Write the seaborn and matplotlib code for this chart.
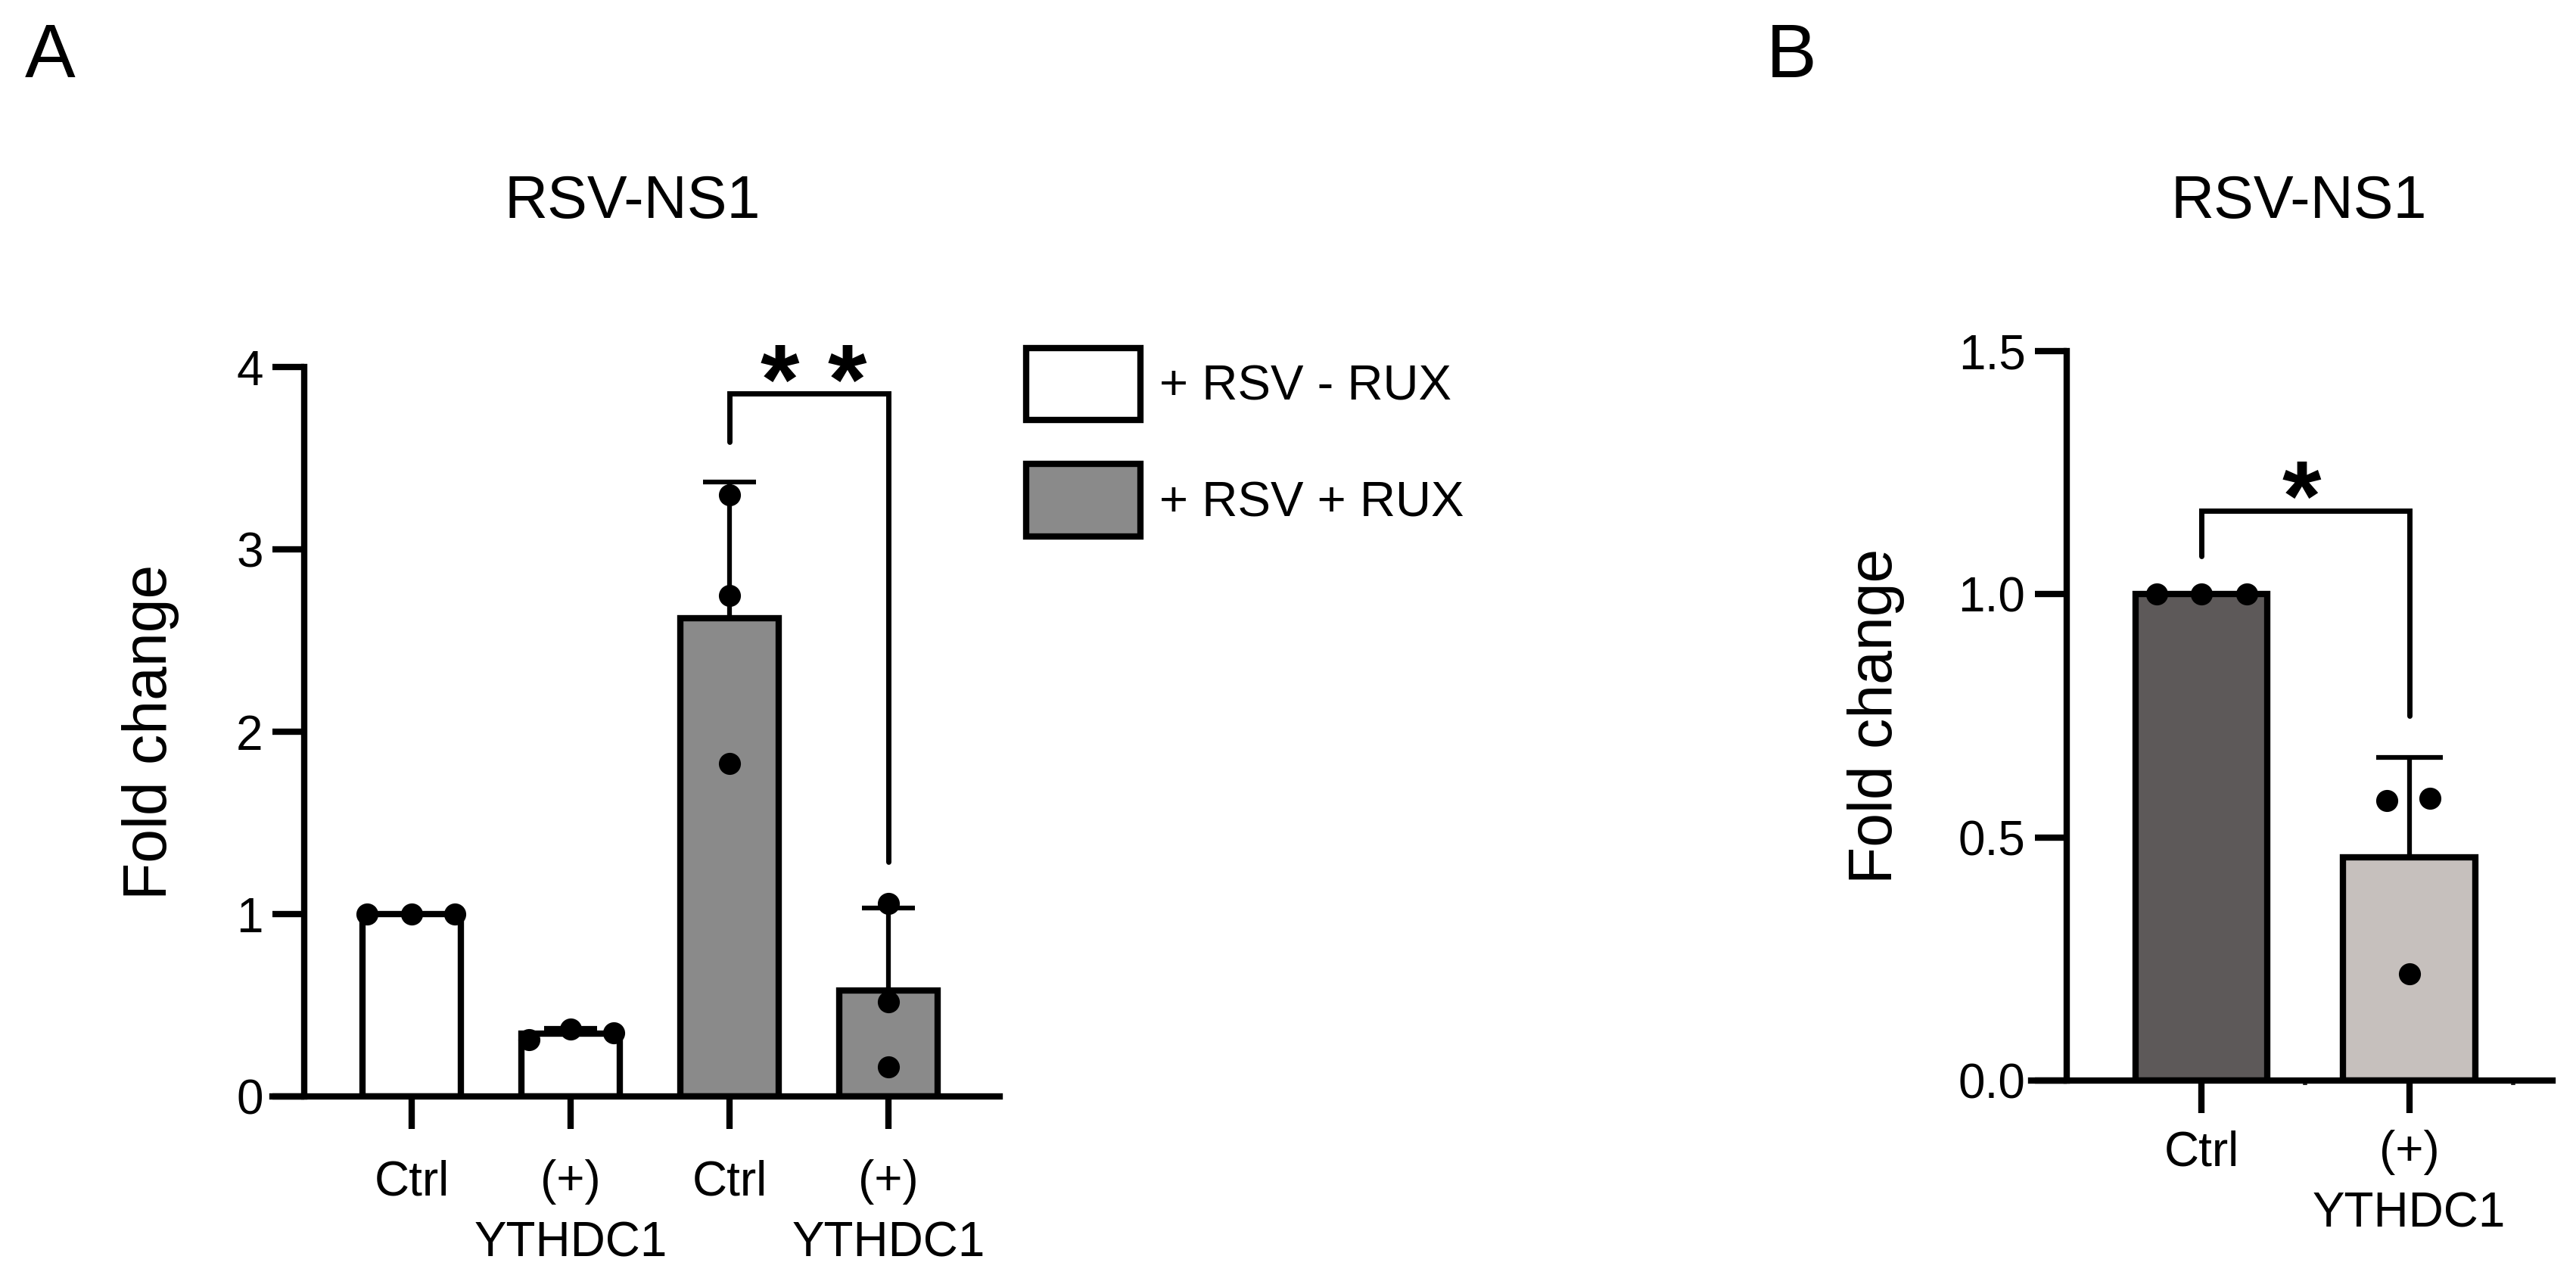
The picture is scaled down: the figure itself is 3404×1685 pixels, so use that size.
import numpy as np
import pandas as pd
import seaborn as sns
import matplotlib.pyplot as plt
from matplotlib.patches import Patch

# ---- data ----
# panel A: RSV-NS1, two conditions x two groups, three replicates each
a_tick_labels = ['Ctrl', '(+)\nYTHDC1', 'Ctrl', '(+)\nYTHDC1']
a_conditions = ['+ RSV - RUX', '+ RSV - RUX', '+ RSV + RUX', '+ RSV + RUX']
a_ctrl_norux = [1.0, 1.0, 1.0]
a_ythdc1_norux = [0.31, 0.37, 0.35]
a_ctrl_rux = [3.30, 2.745, 1.825]
a_ythdc1_rux = [1.06, 0.52, 0.16]
a_sig = '*'

# panel B: RSV-NS1, two groups, three replicates each
b_tick_labels = ['Ctrl', '(+)\nYTHDC1']
b_ctrl = [1.0, 1.0, 1.0]
b_ythdc1 = [0.575, 0.58, 0.22]
b_sig = '*'

# ---- style ----
W, H = 3404, 1685
font = ['Liberation Sans', 'DejaVu Sans']
a_colors = {'+ RSV - RUX': '#ffffff', '+ RSV + RUX': '#8a8a8a'}
b_colors = ['#5e5858', '#c8bfbb']
# horizontal spread of replicate dots (fraction of a category step)
a_dot_dx = [[-0.28, 0.0, 0.27], [-0.26, 0.0, 0.27], [0.0, 0.0, 0.0], [0.0, 0.0, 0.0]]
b_dot_dx = [[-0.216, 0.0, 0.22], [-0.108, 0.10, 0.0]]
LW = 6

sns.set_style('ticks')
plt.rcParams['font.family'] = font
plt.rcParams['text.color'] = 'black'
plt.rcParams['axes.labelcolor'] = 'black'

a_reps = [a_ctrl_norux, a_ythdc1_norux, a_ctrl_rux, a_ythdc1_rux]
b_reps = [b_ctrl, b_ythdc1]

df_a = pd.DataFrame({
    'slot': [f'A{i}' for i, r in enumerate(a_reps) for _ in r],
    'cond': [a_conditions[i] for i, r in enumerate(a_reps) for _ in r],
    'value': [v for r in a_reps for v in r],
})
df_b = pd.DataFrame({
    'slot': [f'B{i}' for i, r in enumerate(b_reps) for _ in r],
    'value': [v for r in b_reps for v in r],
})

fig = plt.figure(figsize=(W / 100, H / 100), dpi=100)


def px_axes(left, right, bottom, top):
    return fig.add_axes([left / W, 1 - bottom / H, (right - left) / W, (bottom - top) / H])


ax_a = px_axes(360, 1321, 1449, 485)
ax_b = px_axes(2684, 3373, 1428, 464)

# bars
sns.barplot(data=df_a, x='slot', y='value', hue='cond', palette=a_colors,
            errorbar=None, width=0.62, dodge=False, edgecolor='black',
            linewidth=LW, legend=False, ax=ax_a)
sns.barplot(data=df_b, x='slot', y='value', hue='slot', palette=b_colors,
            errorbar=None, width=0.636, dodge=False, edgecolor='black',
            linewidth=LW, legend=False, ax=ax_b)


def add_points_and_sd(ax, df, dx, capsize):
    stats = df.groupby('slot', sort=False)['value'].agg(['mean', 'std'])
    xs = np.arange(len(stats))
    ax.errorbar(xs, stats['mean'], yerr=[np.zeros(len(xs)), stats['std']],
                fmt='none', ecolor='black', elinewidth=4.5, capsize=capsize,
                capthick=4.5, zorder=4)
    px, py = [], []
    for i, (slot, grp) in enumerate(df.groupby('slot', sort=False)):
        for j, v in enumerate(grp['value']):
            px.append(i + dx[i][j])
            py.append(v)
    sns.scatterplot(x=px, y=py, color='black', s=440, linewidth=0,
                    zorder=6, legend=False, ax=ax, clip_on=False)


add_points_and_sd(ax_a, df_a, a_dot_dx, capsize=25)
add_points_and_sd(ax_b, df_b, b_dot_dx, capsize=32)


def style_axis(ax, xlim, ylim, yticks, spine_x, labels, xpad):
    ax.set_xlim(xlim)
    ax.set_ylim(ylim)
    ax.set_yticks(yticks)
    ax.set_xticks(range(len(labels)))
    ax.set_xticklabels(labels, linespacing=1.45)
    sns.despine(ax=ax)
    ax.spines['left'].set_position(('data', spine_x))
    ax.spines['left'].set_bounds(ylim[0], ylim[1])
    for s in ['left', 'bottom']:
        ax.spines[s].set_linewidth(LW)
        ax.spines[s].set_color('black')
    ax.tick_params(axis='y', direction='out', length=30, width=LW, pad=9,
                   labelsize=46, colors='black')
    ax.tick_params(axis='x', direction='out', length=31, width=LW, pad=xpad,
                   labelsize=46, colors='black')
    ax.set_xlabel('')
    ax.set_facecolor('none')


style_axis(ax_a, (-0.876, 3.70), (0, 4), [0, 1, 2, 3, 4], -0.676, a_tick_labels, 29)
style_axis(ax_b, (-0.82, 1.69), (0, 1.5), [0, 0.5, 1.0, 1.5], -0.65, b_tick_labels, 16)
ax_b.set_xticks([0.5, 1.5], minor=True)
ax_b.tick_params(axis='x', which='minor', length=4, width=4, direction='out')

ax_a.set_ylabel('Fold change', fontsize=58)
ax_a.yaxis.set_label_coords(-0.1675, 0.5)
ax_b.set_ylabel('Fold change', fontsize=58)
ax_b.yaxis.set_label_coords(-0.2975, 0.5)
for ax in (ax_a, ax_b):
    ax.yaxis.label.set_va('center')


# significance brackets
def bracket(ax, sig, x0, x1, y_left, y_top, y_right, stars_x, star_y, fs=95):
    ax.plot([x0, x0, x1, x1], [y_left, y_top, y_top, y_right], color='black',
            lw=5, solid_joinstyle='miter', clip_on=False, zorder=5)
    for sx in stars_x:
        ax.annotate(sig, xy=(sx, star_y), xytext=(0, -0.58 * fs),
                    textcoords='offset points', ha='center', va='baseline',
                    fontsize=fs, fontweight='bold', annotation_clip=False)


bracket(ax_a, a_sig, 2, 3, 3.59, 3.854, 1.285, [2.314, 2.738], 4.06)
bracket(ax_b, b_sig, 0, 1, 1.078, 1.171, 0.75, [0.48], 1.25)

# titles and panel letters
fig.text(836 / W, 1 - 288 / H, 'RSV-NS1', fontsize=57, ha='center', va='baseline')
fig.text(3038 / W, 1 - 288 / H, 'RSV-NS1', fontsize=57, ha='center', va='baseline')
fig.text(33 / W, 1 - 102 / H, 'A', fontsize=72, ha='left', va='baseline')
fig.text(2334 / W, 1 - 102 / H, 'B', fontsize=72, ha='left', va='baseline')

# legend for panel A
handles = [Patch(facecolor=a_colors[c], edgecolor='black', linewidth=LW, label=c)
           for c in dict.fromkeys(a_conditions)]
fig.legend(handles=handles, loc='upper left', bbox_to_anchor=(1356 / W, 1 - 460 / H),
           frameon=False, fontsize=47, handlelength=2.32, handleheight=1.87,
           handletextpad=0.38, labelspacing=0.89, borderpad=0, borderaxespad=0)

fig.savefig('out.png', dpi=100)
